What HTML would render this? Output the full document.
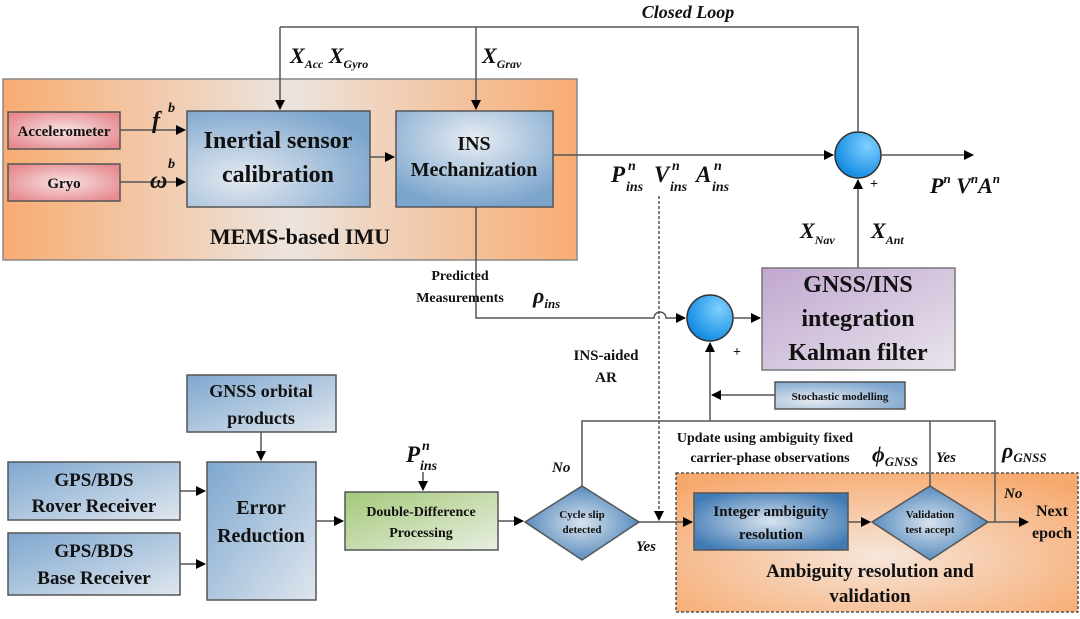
<!DOCTYPE html>
<html><head><meta charset="utf-8"><style>
html,body{margin:0;padding:0;background:#fff}
svg{display:block}
text{font-family:"Liberation Serif",serif;font-weight:bold;fill:#111}
.it{font-style:italic}
</style></head><body>
<svg width="1080" height="619" viewBox="0 0 1080 619" xmlns="http://www.w3.org/2000/svg">
<defs>
<linearGradient id="or" x1="0" x2="1" y1="0" y2="0">
<stop offset="0" stop-color="#f8ac72"/><stop offset="0.5" stop-color="#ece4de"/><stop offset="1" stop-color="#f8ac72"/></linearGradient>
<radialGradient id="or2" cx="0.5" cy="0.6" r="0.7"><stop offset="0" stop-color="#f6e6da"/><stop offset="1" stop-color="#f7a86c"/></radialGradient>
<radialGradient id="bl" cx="0.3" cy="0.7" r="0.8"><stop offset="0" stop-color="#e4e9f0"/><stop offset="1" stop-color="#7ca5cd"/></radialGradient>
<radialGradient id="bl2" cx="0.5" cy="0.3" r="0.7"><stop offset="0" stop-color="#e8edf3"/><stop offset="1" stop-color="#7ca5cd"/></radialGradient>
<linearGradient id="bl3" x1="0" x2="1" y1="0" y2="1"><stop offset="0" stop-color="#7ea7cf"/><stop offset="1" stop-color="#dfe6ee"/></linearGradient>
<radialGradient id="bl4" cx="0.5" cy="0.5" r="0.6"><stop offset="0" stop-color="#d8e3ee"/><stop offset="1" stop-color="#3f7ab4"/></radialGradient>
<radialGradient id="rd" cx="0.5" cy="0.5" r="0.6"><stop offset="0" stop-color="#f7e3e3"/><stop offset="1" stop-color="#e68a8f"/></radialGradient>
<linearGradient id="gr" x1="0" x2="1" y1="0" y2="1"><stop offset="0" stop-color="#a4c97a"/><stop offset="1" stop-color="#e8eee0"/></linearGradient>
<linearGradient id="pu" x1="0" x2="1" y1="0" y2="1"><stop offset="0" stop-color="#c0a7cf"/><stop offset="1" stop-color="#e9e4ec"/></linearGradient>
<radialGradient id="cir" cx="0.7" cy="0.3" r="0.8"><stop offset="0" stop-color="#7fd0ff"/><stop offset="1" stop-color="#0a86e0"/></radialGradient>
<marker id="a" markerWidth="10" markerHeight="10" refX="9" refY="5" orient="auto" markerUnits="userSpaceOnUse"><path d="M0,0 L10,5 L0,10 z" fill="#000"/></marker>
</defs>
<g stroke="#555" stroke-width="1.5" fill="none">
<rect x="3" y="79" width="574" height="181" fill="url(#or)" stroke="#888"/>
<rect x="676" y="473" width="402" height="139" fill="url(#or2)" stroke="#555" stroke-dasharray="3,2"/>
<rect x="8" y="112" width="112" height="37" fill="url(#rd)" stroke="#555"/>
<rect x="8" y="164" width="112" height="37" fill="url(#rd)" stroke="#555"/>
<rect x="187" y="111" width="183" height="96" fill="url(#bl)" stroke="#555"/>
<rect x="396" y="111" width="157" height="96" fill="url(#bl2)" stroke="#555"/>
<rect x="762" y="268" width="193" height="102" fill="url(#pu)" stroke="#777"/>
<rect x="775" y="382" width="130" height="27" fill="url(#bl)" stroke="#555"/>
<rect x="187" y="375" width="149" height="57" fill="url(#bl3)" stroke="#555"/>
<rect x="8" y="462" width="172" height="58" fill="url(#bl3)" stroke="#555"/>
<rect x="8" y="533" width="172" height="62" fill="url(#bl3)" stroke="#555"/>
<rect x="207" y="462" width="109" height="138" fill="url(#bl3)" stroke="#555"/>
<rect x="345" y="492" width="153" height="58" fill="url(#gr)" stroke="#555"/>
<rect x="694" y="493" width="154" height="57" fill="url(#bl4)" stroke="#555"/>
<polygon points="525,522 582,486 639,522 582,560" fill="url(#bl4)" stroke="#555"/>
<polygon points="872,522 930,486 988,522 930,560" fill="url(#bl4)" stroke="#555"/>
<circle cx="858" cy="155" r="23" fill="url(#cir)" stroke="#333"/>
<circle cx="710" cy="318" r="23" fill="url(#cir)" stroke="#333"/>
<path d="M120,130 H185" marker-end="url(#a)"/>
<path d="M120,182 H185" marker-end="url(#a)"/>
<path d="M370,157 H394" marker-end="url(#a)"/>
<path d="M280,27 H858 V132"/>
<path d="M280,27 V109" marker-end="url(#a)"/>
<path d="M476,27 V109" marker-end="url(#a)"/>
<path d="M553,155 H833" marker-end="url(#a)"/>
<path d="M881,155 H973" marker-end="url(#a)"/>
<path d="M858,268 V180" marker-end="url(#a)"/>
<path d="M476,207 V318 H654 A6,6 0 0 1 666,318 H685" marker-end="url(#a)"/>
<path d="M733,318 H760" marker-end="url(#a)"/>
<path d="M659,196 V520" stroke-dasharray="3,2" marker-end="url(#a)"/>
<path d="M775,395 H712" marker-end="url(#a)"/>
<path d="M710,421 V343" marker-end="url(#a)"/>
<path d="M582,486 V421 H995 V522"/>
<path d="M930,421 V486"/>
<path d="M261,432 V460" marker-end="url(#a)"/>
<path d="M180,491 H205" marker-end="url(#a)"/>
<path d="M180,564 H205" marker-end="url(#a)"/>
<path d="M316,521 H343" marker-end="url(#a)"/>
<path d="M423,472 V490" marker-end="url(#a)"/>
<path d="M498,521 H523" marker-end="url(#a)"/>
<path d="M639,522 H692" marker-end="url(#a)"/>
<path d="M848,522 H870" marker-end="url(#a)"/>
<path d="M988,522 H1028" marker-end="url(#a)"/>
</g>
<text class="it" x="688" y="18" font-size="18" text-anchor="middle">Closed Loop</text>
<text class="it" x="290" y="63" font-size="22">X<tspan font-size="12" dy="5">Acc</tspan><tspan dy="-5"> X</tspan><tspan font-size="12" dy="5">Gyro</tspan></text>
<text class="it" x="482" y="63" font-size="22">X<tspan font-size="12" dy="5">Grav</tspan></text>
<text x="64" y="136" font-size="15" text-anchor="middle">Accelerometer</text>
<text x="64" y="188" font-size="15" text-anchor="middle">Gryo</text>
<text class="it" x="152" y="128" font-size="24">f</text>
<text class="it" x="168" y="112" font-size="14">b</text>
<text class="it" x="150" y="188" font-size="24">ω</text>
<text class="it" x="168" y="168" font-size="14">b</text>
<text x="278" y="148" font-size="24" text-anchor="middle">Inertial sensor</text>
<text x="278" y="182" font-size="24" text-anchor="middle">calibration</text>
<text x="474" y="150" font-size="20" text-anchor="middle">INS</text>
<text x="474" y="176" font-size="20" text-anchor="middle">Mechanization</text>
<text x="300" y="244" font-size="22" text-anchor="middle">MEMS-based IMU</text>
<g class="it" font-style="italic">
<text class="it" x="611" y="182" font-size="23">P</text>
<text class="it" x="626" y="191" font-size="14">ins</text>
<text class="it" x="628" y="170" font-size="14">n</text>
<text class="it" x="654" y="182" font-size="23">V</text>
<text class="it" x="670" y="191" font-size="14">ins</text>
<text class="it" x="672" y="170" font-size="14">n</text>
<text class="it" x="696" y="182" font-size="23">A</text>
<text class="it" x="712" y="191" font-size="14">ins</text>
<text class="it" x="714" y="170" font-size="14">n</text>
</g>
<text class="it" x="930" y="193" font-size="22">P<tspan font-size="13" dy="-10">n</tspan><tspan dy="10"> V</tspan><tspan font-size="13" dy="-10">n</tspan><tspan dy="10">A</tspan><tspan font-size="13" dy="-10">n</tspan></text>
<text x="870" y="188" font-size="14">+</text>
<text class="it" x="800" y="238" font-size="22">X<tspan font-size="12" dy="6">Nav</tspan></text>
<text class="it" x="871" y="238" font-size="22">X<tspan font-size="12" dy="6">Ant</tspan></text>
<text x="460" y="280" font-size="14" text-anchor="middle">Predicted</text>
<text x="460" y="302" font-size="14" text-anchor="middle">Measurements</text>
<text class="it" x="533" y="303" font-size="22">ρ<tspan font-size="13" dy="5">ins</tspan></text>
<text x="858" y="292" font-size="24" text-anchor="middle">GNSS/INS</text>
<text x="858" y="326" font-size="24" text-anchor="middle">integration</text>
<text x="858" y="360" font-size="24" text-anchor="middle">Kalman filter</text>
<text x="733" y="356" font-size="14">+</text>
<text x="606" y="360" font-size="15" text-anchor="middle">INS-aided</text>
<text x="606" y="382" font-size="15" text-anchor="middle">AR</text>
<text x="840" y="400" font-size="11" text-anchor="middle">Stochastic modelling</text>
<text x="765" y="442" font-size="14" text-anchor="middle">Update using ambiguity fixed</text>
<text x="770" y="462" font-size="14" text-anchor="middle">carrier-phase observations</text>
<text class="it" x="872" y="462" font-size="22">ϕ<tspan font-size="13" dy="4">GNSS</tspan></text>
<text class="it" x="936" y="462" font-size="15">Yes</text>
<text class="it" x="1002" y="458" font-size="22">ρ<tspan font-size="13" dy="4">GNSS</tspan></text>
<text class="it" x="552" y="472" font-size="15">No</text>
<text class="it" x="636" y="551" font-size="15">Yes</text>
<text class="it" x="1004" y="498" font-size="15">No</text>
<text x="1052" y="516" font-size="16" text-anchor="middle">Next</text>
<text x="1052" y="538" font-size="16" text-anchor="middle">epoch</text>
<text x="261" y="397" font-size="18" text-anchor="middle">GNSS orbital</text>
<text x="261" y="424" font-size="18" text-anchor="middle">products</text>
<text x="94" y="486" font-size="19" text-anchor="middle">GPS/BDS</text>
<text x="94" y="512" font-size="19" text-anchor="middle">Rover Receiver</text>
<text x="94" y="557" font-size="19" text-anchor="middle">GPS/BDS</text>
<text x="94" y="584" font-size="19" text-anchor="middle">Base Receiver</text>
<text x="261" y="514" font-size="20" text-anchor="middle">Error</text>
<text x="261" y="542" font-size="20" text-anchor="middle">Reduction</text>
<text class="it" x="406" y="462" font-size="23">P</text>
<text class="it" x="420" y="470" font-size="14">ins</text>
<text class="it" x="422" y="450" font-size="14">n</text>
<text x="421" y="516" font-size="14" text-anchor="middle">Double-Difference</text>
<text x="421" y="537" font-size="14" text-anchor="middle">Processing</text>
<text x="582" y="518" font-size="11" text-anchor="middle">Cycle slip</text>
<text x="582" y="533" font-size="11" text-anchor="middle">detected</text>
<text x="771" y="516" font-size="15" text-anchor="middle">Integer ambiguity</text>
<text x="771" y="539" font-size="15" text-anchor="middle">resolution</text>
<text x="930" y="518" font-size="11" text-anchor="middle">Validation</text>
<text x="930" y="533" font-size="11" text-anchor="middle">test accept</text>
<text x="870" y="577" font-size="19" text-anchor="middle">Ambiguity resolution and</text>
<text x="870" y="602" font-size="19" text-anchor="middle">validation</text>
</svg>
</body></html>
